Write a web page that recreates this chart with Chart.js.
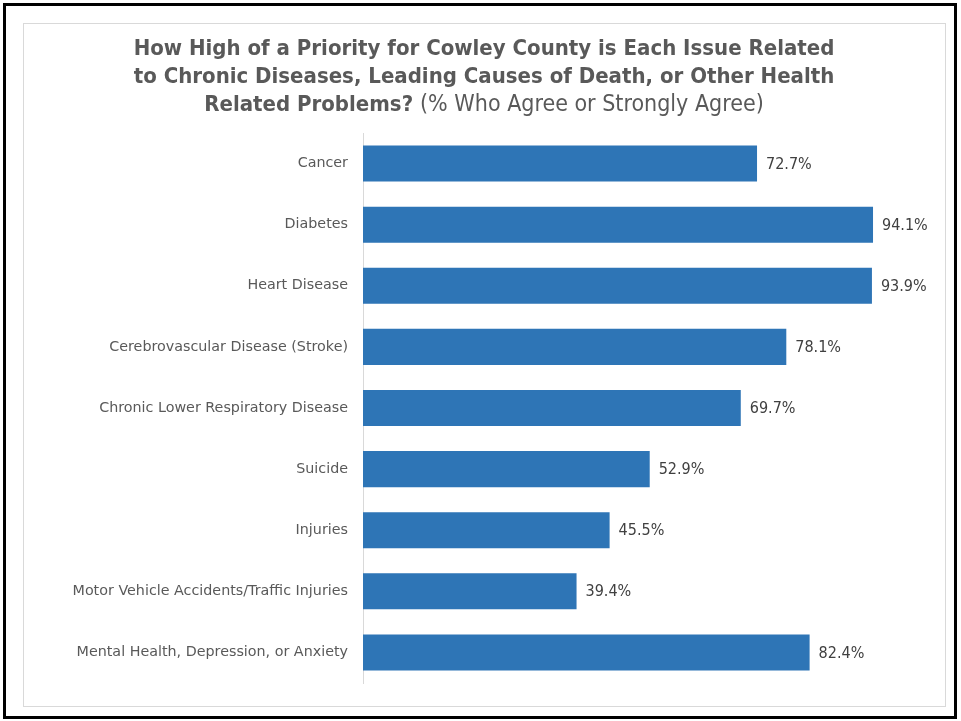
<!DOCTYPE html>
<html>
<head>
<meta charset="utf-8">
<script src="https://cdn.jsdelivr.net/npm/chart.js@4.4.1/dist/chart.umd.min.js"></script>
<style>
  html, body { margin: 0; padding: 0; background: #fff; }
  #wrap { width: 961px; height: 721px; }
</style>
</head>
<body>
<div id="wrap"><canvas id="barChart" width="961" height="721"></canvas></div>
<script>
// chart data
const categories = [
  'Cancer',
  'Diabetes',
  'Heart Disease',
  'Cerebrovascular Disease (Stroke)',
  'Chronic Lower Respiratory Disease',
  'Suicide',
  'Injuries',
  'Motor Vehicle Accidents/Traffic Injuries',
  'Mental Health, Depression, or Anxiety'
];
const agreePct = [72.7, 94.1, 93.9, 78.1, 69.7, 52.9, 45.5, 39.4, 82.4];

const titleLines = [
  [{ text: 'How High of a Priority for Cowley County is Each Issue Related', bold: true }],
  [{ text: 'to Chronic Diseases, Leading Causes of Death, or Other Health', bold: true }],
  [{ text: 'Related Problems? ', bold: true }, { text: '(% Who Agree or Strongly Agree)', bold: false }]
];

const FONT = '"DejaVu Sans Condensed", "DejaVu Sans", sans-serif';
const LABEL_FONT = '"DejaVu Sans", sans-serif';

function titleFont(p) {
  return p.bold ? 'bold 22px ' + FONT : '23px ' + FONT;
}

// frame + title
const framePlugin = {
  id: 'frame',
  beforeDraw(chart) {
    const ctx = chart.ctx;
    ctx.save();
    ctx.fillStyle = '#fff';
    ctx.fillRect(0, 0, chart.width, chart.height);
    ctx.strokeStyle = '#000';
    ctx.lineWidth = 3;
    ctx.strokeRect(4.5, 4.5, 951, 713);
    ctx.strokeStyle = '#d9d9d9';
    ctx.lineWidth = 1;
    ctx.strokeRect(23.5, 23.5, 922, 683);

    const baselines = [55, 83, 111];
    const cx = 484;
    ctx.fillStyle = '#595959';
    ctx.textBaseline = 'alphabetic';
    ctx.textAlign = 'left';
    titleLines.forEach((parts, i) => {
      let total = 0;
      parts.forEach(p => {
        ctx.font = titleFont(p);
        p.w = ctx.measureText(p.text).width;
        total += p.w;
      });
      let x = cx - total / 2;
      parts.forEach(p => {
        ctx.font = titleFont(p);
        ctx.fillText(p.text, x, baselines[i]);
        x += p.w;
      });
    });
    ctx.restore();
  }
};

// value labels at bar ends
const valueLabels = {
  id: 'valueLabels',
  afterDatasetsDraw(chart) {
    const ctx = chart.ctx;
    const meta = chart.getDatasetMeta(0);
    ctx.save();
    ctx.font = '16px ' + FONT;
    ctx.fillStyle = '#404040';
    ctx.textAlign = 'left';
    ctx.textBaseline = 'middle';
    meta.data.forEach((bar, i) => {
      ctx.fillText(agreePct[i].toFixed(1) + '%', bar.x + 9, bar.y + 1);
    });
    ctx.restore();
  }
};

const barCtx = document.getElementById('barChart').getContext('2d');
const barChart = new Chart(barCtx, {
  type: 'bar',
  data: {
    labels: categories,
    datasets: [{
      data: agreePct,
      backgroundColor: '#2E75B6',
      borderWidth: 0,
      categoryPercentage: 1,
      barPercentage: 0.59
    }]
  },
  options: {
    indexAxis: 'y',
    responsive: false,
    animation: false,
    layout: { padding: { left: 0, right: 56, top: 133, bottom: 38 } },
    plugins: {
      legend: { display: false },
      title: { display: false },
      tooltip: { enabled: false }
    },
    scales: {
      x: {
        display: false,
        min: 0,
        max: 100
      },
      y: {
        afterFit(scale) { scale.width = 363; },
        grid: { display: false, drawTicks: false },
        border: { display: true, color: '#d9d9d9', width: 1 },
        ticks: {
          padding: 15,
          color: '#595959',
          font: { family: LABEL_FONT, size: 14.3 }
        }
      }
    }
  },
  plugins: [framePlugin, valueLabels]
});
</script>
</body>
</html>
